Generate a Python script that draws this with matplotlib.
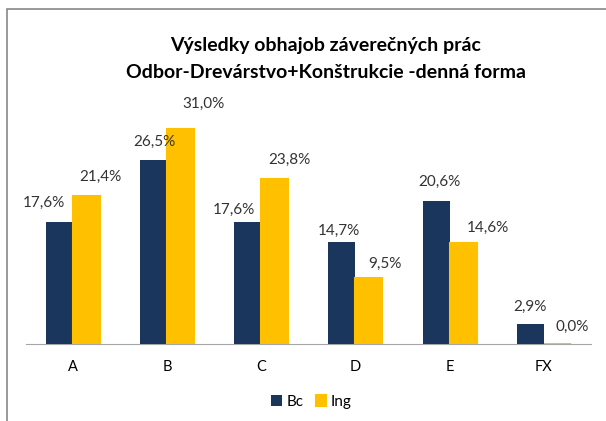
import numpy as np
import matplotlib.pyplot as plt
from matplotlib.patches import Rectangle

plt.rcParams['font.family'] = ['Lato', 'DejaVu Sans']

categories = ['A', 'B', 'C', 'D', 'E', 'FX']
bc = [17.6, 26.5, 17.6, 14.7, 20.6, 2.9]
ing = [21.4, 31.0, 23.8, 9.5, 14.6, 0.0]

# label nudges (pixels) as placed in the original
bc_dx = [-15, 1, -14, -3, 3, 0]
bc_dy = [19, 19, 12, 11, 20, 17]
ing_dx = [14, 23, 15, 16, 25, 15]
ing_dy = [19, 25, 19, 15, 15, 17]

navy = '#1B365D'
gold = '#FFC000'

fig = plt.figure(figsize=(6.06, 4.21), dpi=100)
ax = fig.add_axes([25.5 / 606, 0.182, 565.5 / 606, 0.577])

x = np.arange(len(categories))
w = 0.287
b1 = ax.bar(x - w / 2, bc, w, color=navy, label='Bc', zorder=3)
b2 = ax.bar(x + w / 2, ing, w, color=gold, edgecolor=gold, linewidth=1.5,
            label='Ing', zorder=3)

for bars, vals, dxs, dys in ((b1, bc, bc_dx, bc_dy), (b2, ing, ing_dx, ing_dy)):
    for r, v, dx, dy in zip(bars, vals, dxs, dys):
        ax.annotate(f'{v:.1f}%'.replace('.', ','),
                    (r.get_x() + r.get_width() / 2, r.get_height()),
                    xytext=(dx * 0.72, dy * 0.72), textcoords='offset points',
                    ha='center', va='center', fontsize=11, color='#333333')

ax.set_xlim(-0.5, len(categories) - 0.5)
ax.set_ylim(0, 35)
ax.set_xticks(x)
ax.set_xticklabels(categories, fontsize=10.5)
ax.tick_params(axis='x', length=0, pad=11)
ax.set_yticks([])
for s in ['top', 'right', 'left']:
    ax.spines[s].set_visible(False)
ax.spines['bottom'].set_color('#A6A6A6')

fig.text(0.538, 1 - 45 / 421, 'Výsledky obhajob záverečných prác', ha='center', va='center',
         fontsize=14, fontweight='bold')
fig.text(0.538, 1 - 72 / 421, 'Odbor-Drevárstvo+Konštrukcie -denná forma', ha='center', va='center',
         fontsize=14, fontweight='bold')

fig.legend(handles=[b1, b2], loc='center', bbox_to_anchor=(0.514, 1 - 402 / 421), ncol=2,
           frameon=False, fontsize=11, handlelength=0.7, handleheight=0.7,
           handletextpad=0.3, columnspacing=0.8)

fig.patches.append(Rectangle((7 / 606, -0.1), 1.2, 1.1 - 9 / 421, transform=fig.transFigure,
                             fill=False, edgecolor='#888888', linewidth=1.2))

fig.savefig('out.png', dpi=100)
